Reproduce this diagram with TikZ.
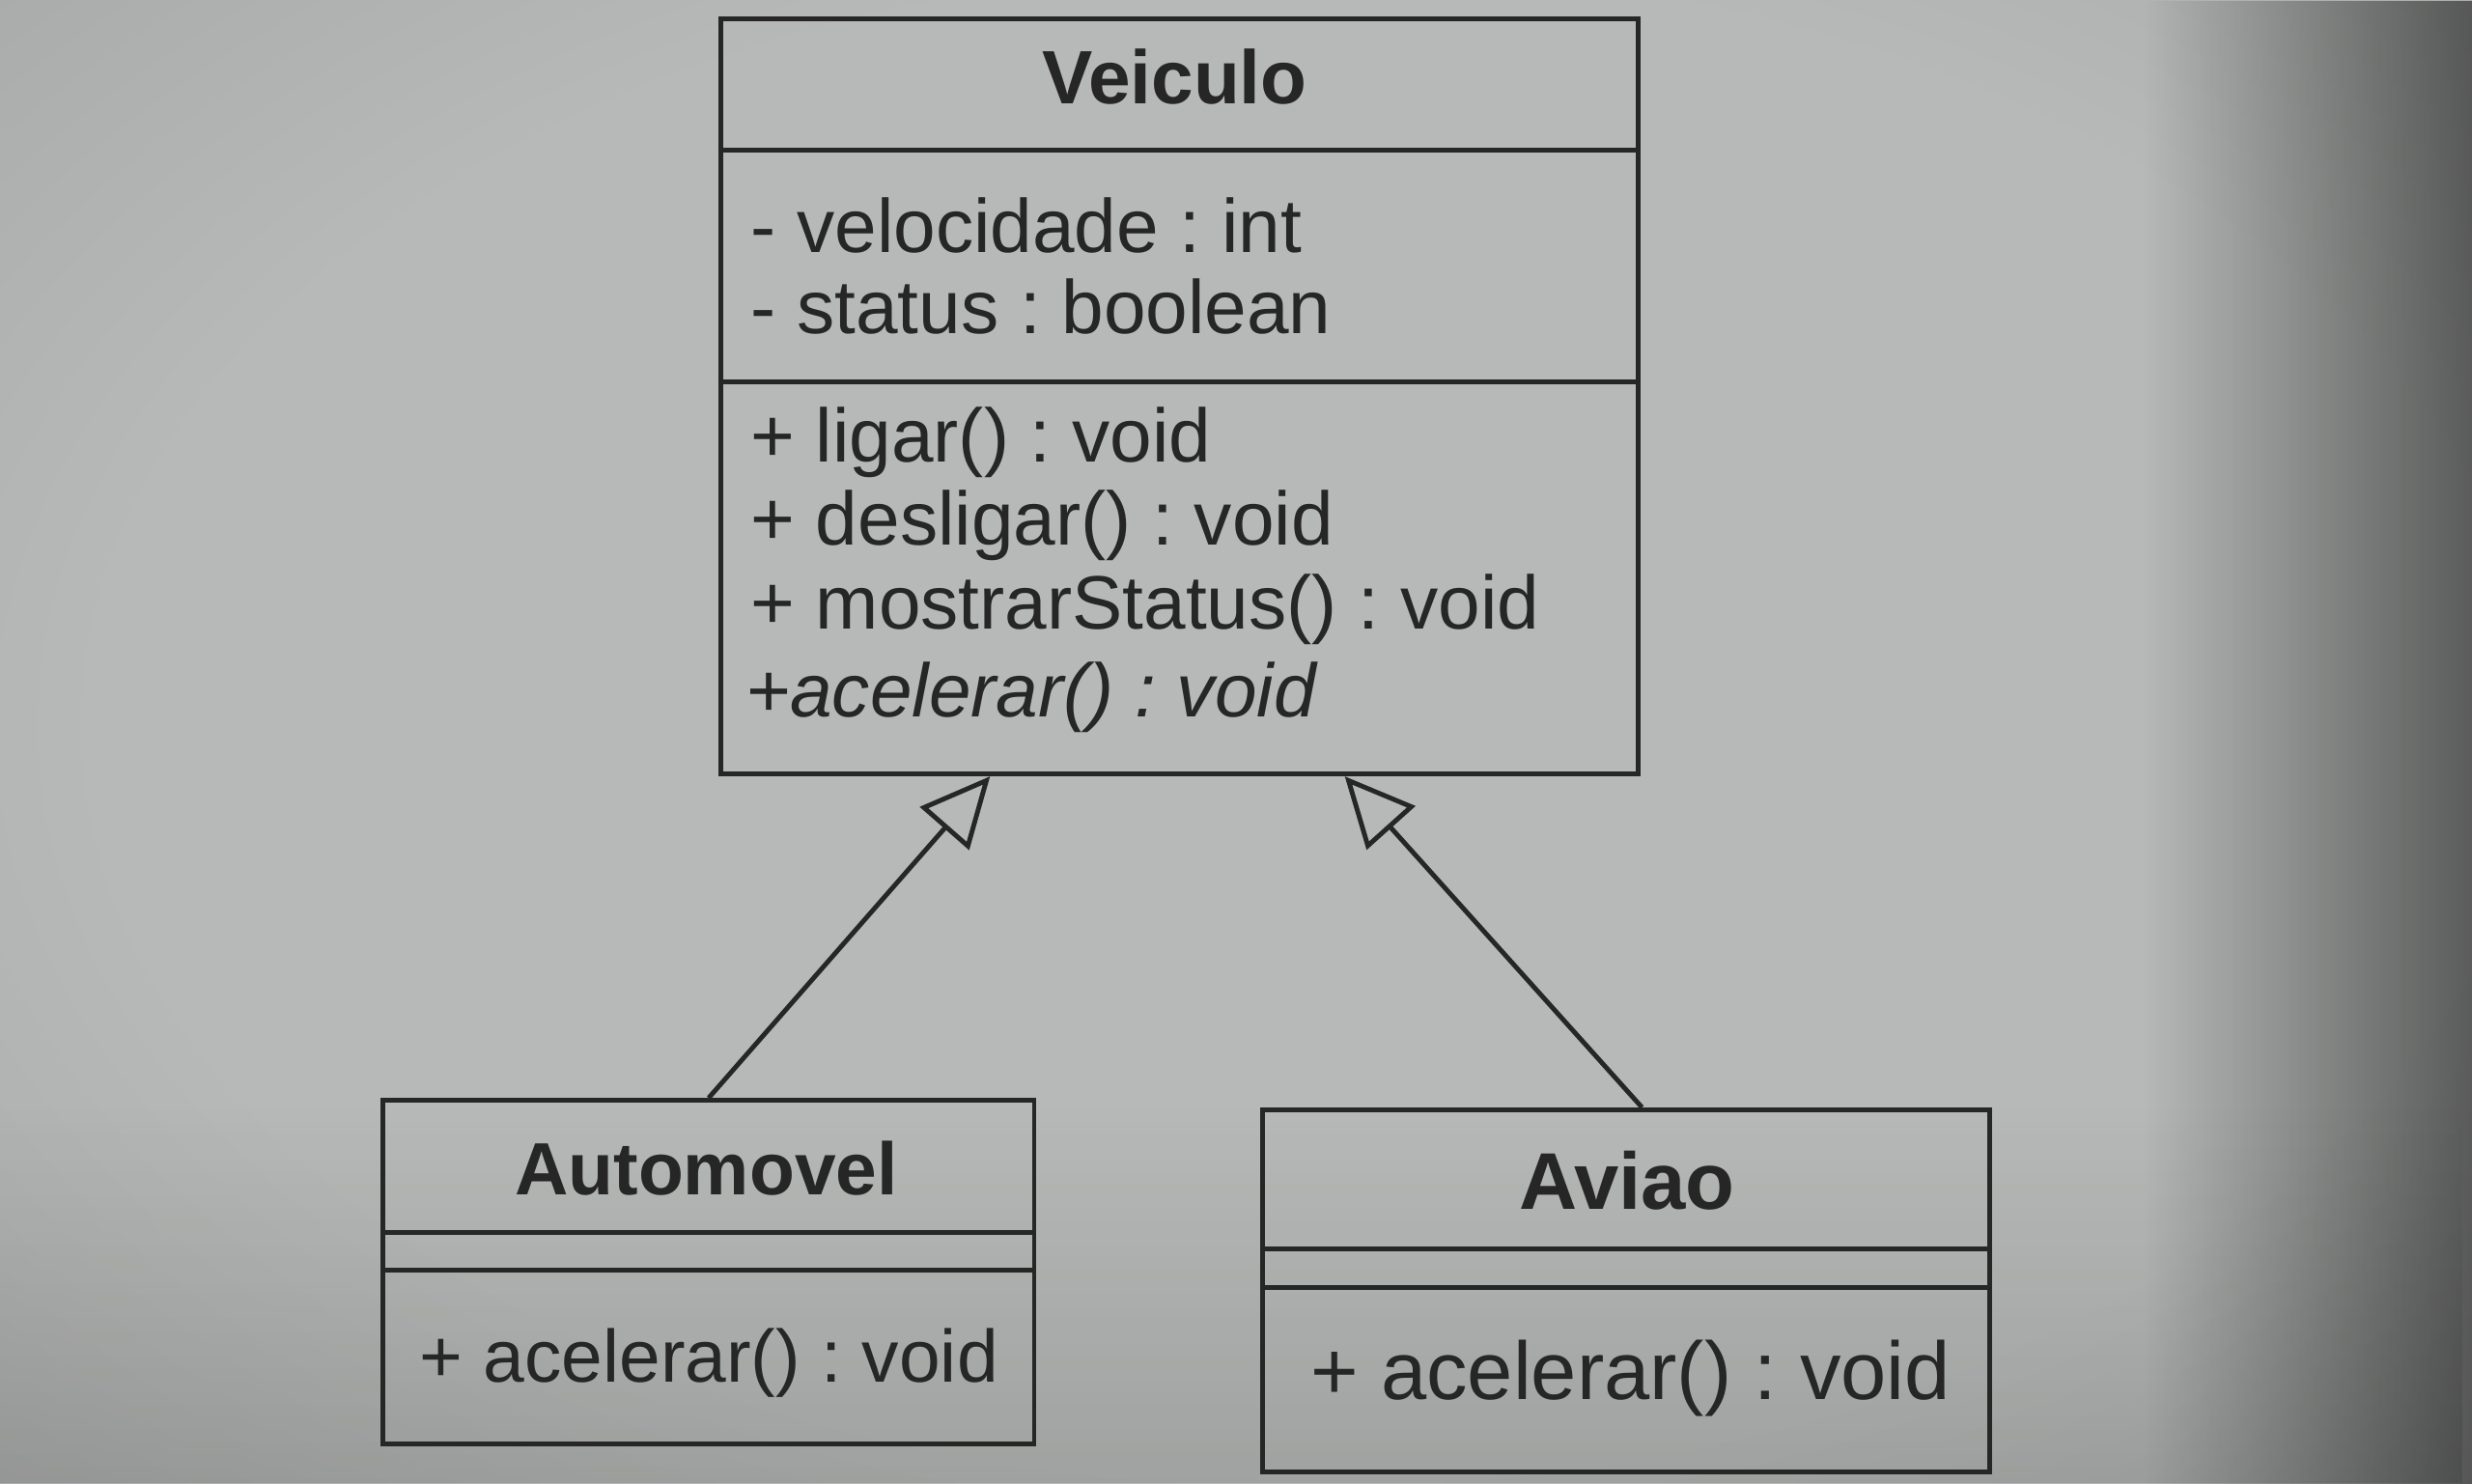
\documentclass[tikz,border=0pt]{standalone}
\usepackage{fontspec}
\setmainfont{Liberation Sans}
\frenchspacing
\usetikzlibrary{arrows.meta,fadings}
\definecolor{ink}{RGB}{38,38,38}
\definecolor{bgc}{RGB}{182,185,183}
\definecolor{bgm}{RGB}{160,162,161}
\definecolor{bgd}{RGB}{126,127,126}
\definecolor{bge}{RGB}{96,97,96}
\pgfdeclareradialshading{vign}{\pgfpoint{0bp}{0bp}}{color(0bp)=(bgc); color(22bp)=(bgc); color(40bp)=(bgm); color(52bp)=(bgd); color(66bp)=(bge); color(75bp)=(bge)}
\tikzfading[name=fadeR, left color=transparent!100, right color=transparent!0]
\tikzfading[name=fadeB, top color=transparent!100, bottom color=transparent!0]
\tikzset{
  cls/.style={draw=ink, line width=3pt, rectangle, inner sep=0pt},
  divline/.style={draw=ink, line width=3pt},
  ctitle/.style={anchor=base, inner sep=0pt, text=ink, font=\fontsize{#1}{#1}\selectfont\bfseries},
  ctitle/.default=48,
  member/.style={anchor=base west, inner sep=0pt, text=ink, font=\fontsize{#1}{#1}\selectfont},
  member/.default=48,
  gen/.style={draw=ink, line width=3pt, -{Triangle[open, length=44pt, width=41pt]}}
}
\begin{document}
\begin{tikzpicture}[x=1pt,y=-1pt]
\useasboundingbox (0,0) rectangle (1568,941);
% paper background with vignette
\begin{scope}
  \clip (0,0) rectangle (1568,941);
  \shade[shading=vign] (-40,-80) rectangle (1700,1000);
  \fill[black, opacity=0.5, path fading=fadeR] (1360,0) rectangle (1568,941);
  \fill[black, opacity=0.12, path fading=fadeB] (0,700) rectangle (1568,941);
\end{scope}

% Veiculo
\node[cls, minimum width=582pt, minimum height=479pt] (Veiculo) at (748,251.5) {};
\draw[divline] ([yshift=-84.5pt]Veiculo.north west) -- ([yshift=-84.5pt]Veiculo.north east);
\draw[divline] ([yshift=-231.5pt]Veiculo.north west) -- ([yshift=-231.5pt]Veiculo.north east);
\node[ctitle=48] (vt) at (745,66) {Veiculo};
\node[member=48] (va1) at (476,160) {- velocidade : int};
\node[member=48] (va2) at (476,211.5) {- status : boolean};
\node[member=48] (vm1) at (476,293) {+ ligar() : void};
\node[member=48] (vm2) at (476,346) {+ desligar() : void};
\node[member=48] (vm3) at (476,399) {+ mostrarStatus() : void};
\node[member=48] (vm4) at (473,455) {\itshape +acelerar() : void};

% Automovel
\node[cls, minimum width=413pt, minimum height=218pt] (Automovel) at (449.5,807) {};
\draw[divline] ([yshift=-85.5pt]Automovel.north west) -- ([yshift=-85.5pt]Automovel.north east);
\draw[divline] ([yshift=-109.5pt]Automovel.north west) -- ([yshift=-109.5pt]Automovel.north east);
\node[ctitle=47] (aut) at (448,758) {Automovel};
\node[member=47] (aum) at (266,877) {+ acelerar() : void};

% Aviao
\node[cls, minimum width=461pt, minimum height=230pt] (Aviao) at (1031.5,819) {};
\draw[divline] ([yshift=-89.5pt]Aviao.north west) -- ([yshift=-89.5pt]Aviao.north east);
\draw[divline] ([yshift=-114.5pt]Aviao.north west) -- ([yshift=-114.5pt]Aviao.north east);
\node[ctitle=51] (avt) at (1032,767) {Aviao};
\node[member=52] (avm) at (831,888) {+ acelerar() : void};

% generalisations
\draw[gen] (Automovel.north) -- ([xshift=-120pt]Veiculo.south);
\draw[gen] ([xshift=10pt]Aviao.north) -- ([xshift=105pt]Veiculo.south);
\end{tikzpicture}
\end{document}
